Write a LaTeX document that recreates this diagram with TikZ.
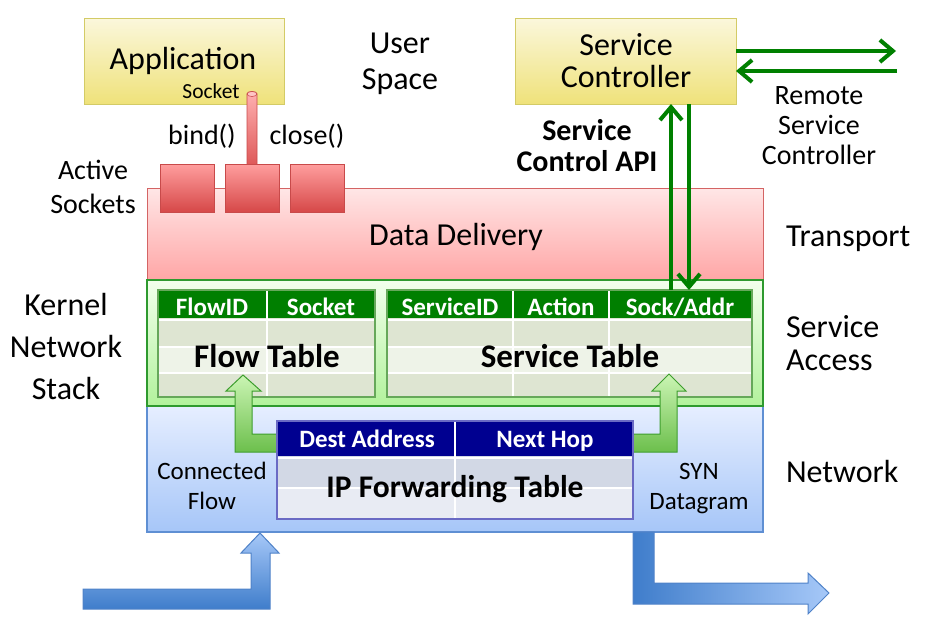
\documentclass[tikz,border=0pt]{standalone}
\usepackage{fontspec}
\setmainfont{Carlito}
\usetikzlibrary{arrows.meta}
\definecolor{appTop}{HTML}{FBF7DC}
\definecolor{appBot}{HTML}{EFE27A}
\definecolor{appBd}{HTML}{D3CB66}
\definecolor{pinkTop}{HTML}{FFE6E6}
\definecolor{pinkBot}{HTML}{FFA6A6}
\definecolor{pinkBd}{HTML}{D46464}
\definecolor{grTop}{HTML}{F2FFEC}
\definecolor{grBot}{HTML}{B2F29C}
\definecolor{grBd}{HTML}{2E9A2E}
\definecolor{blTop}{HTML}{E6EEFF}
\definecolor{blBot}{HTML}{A6C6F8}
\definecolor{blBd}{HTML}{5F8FD3}
\definecolor{hdrG}{HTML}{007F00}
\definecolor{rowGD}{HTML}{DEE5D2}
\definecolor{rowGL}{HTML}{EEF3E8}
\definecolor{tabGBd}{HTML}{66A85A}
\definecolor{hdrB}{HTML}{000090}
\definecolor{rowBD}{HTML}{D2D8E5}
\definecolor{rowBL}{HTML}{E8EBF3}
\definecolor{tabBBd}{HTML}{6A6AC4}
\definecolor{sockTop}{HTML}{FF9E9E}
\definecolor{sockBot}{HTML}{D64848}
\definecolor{sockBd}{HTML}{C84A4A}
\definecolor{gaTop}{HTML}{CBF5B4}
\definecolor{gaBot}{HTML}{6CBF4C}
\definecolor{gaBd}{HTML}{3E9E2E}
\definecolor{baLight}{HTML}{A6C8F8}
\definecolor{baDark}{HTML}{3F7DCB}
\definecolor{baBd}{HTML}{4F82C8}
\definecolor{ctlG}{HTML}{008000}
\begin{document}
\begin{tikzpicture}[x=1pt,y=-1pt,
  box/.style={draw, inner sep=0pt, outer sep=0pt, anchor=north west},
  txt/.style={anchor=base, inner sep=0pt, outer sep=0pt},
  big/.style={txt, font=\fontsize{32}{38}\selectfont},
  mid/.style={txt, font=\fontsize{28}{34}\selectfont},
  small/.style={txt, font=\fontsize{25}{30}\selectfont},
  hdr/.style={txt, text=white, font=\bfseries\fontsize{25}{30}\selectfont},
  ttl/.style={txt, font=\bfseries\fontsize{33}{38}\selectfont},
  garrow/.style={draw=gaBd, line width=1pt, top color=gaTop, bottom color=gaBot},
  ctl/.style={draw=ctlG, line width=4pt, -{Straight Barb[length=13pt,width=22pt]}},
  sockbox/.style={box, draw=sockBd, line width=1pt, top color=sockTop, bottom color=sockBot, minimum width=54pt, minimum height=48pt}
]
\useasboundingbox (0,0) rectangle (931,627);

% layer boxes
\node[box, draw=pinkBd, line width=1pt, top color=pinkTop, bottom color=pinkBot, minimum width=616pt, minimum height=92pt] (deliv) at (147,188) {};
\node[box, draw=blBd, line width=1.2pt, top color=blTop, bottom color=blBot, minimum width=616pt, minimum height=126pt] (netw) at (147,406) {};
\node[box, draw=grBd, line width=1.2pt, top color=grTop, bottom color=grBot, minimum width=616pt, minimum height=126pt] (acc) at (147,280) {};

% flow table
\node[box, draw=none, fill=rowGD, minimum width=217pt, minimum height=107pt] (flowtab) at (158,290) {};
\fill[rowGL] (158,348) rectangle (375,372);
\fill[hdrG] (158,290) rectangle (375,318);
\draw[white, line width=2.5pt] (158,320) -- (375,320);
\draw[white, line width=1.5pt] (158,347) -- (375,347) (158,373) -- (375,373);
\draw[white, line width=1.5pt] (267,290) -- (267,397);
\draw[tabGBd, line width=1.3pt] (flowtab.north west) rectangle (flowtab.south east);
\node[hdr] (fh1) at (212,315) {FlowID};
\node[hdr] (fh2) at (321,315) {Socket};
\node[ttl] (flowttl) at (267,367) {Flow Table};

% service table
\node[box, draw=none, fill=rowGD, minimum width=365pt, minimum height=107pt] (servtab) at (387,290) {};
\fill[rowGL] (387,348) rectangle (752,372);
\fill[hdrG] (387,290) rectangle (752,318);
\draw[white, line width=2.5pt] (387,320) -- (752,320);
\draw[white, line width=1.5pt] (387,347) -- (752,347) (387,373) -- (752,373);
\draw[white, line width=1.5pt] (513,290) -- (513,397) (609,290) -- (609,397);
\draw[tabGBd, line width=1.3pt] (servtab.north west) rectangle (servtab.south east);
\node[hdr] (sh1) at (450,315) {ServiceID};
\node[hdr] (sh2) at (561,315) {Action};
\node[hdr] (sh3) at (680,315) {Sock/Addr};
\node[ttl] (servttl) at (570,367) {Service Table};

% green elbow arrows
\path[garrow] (277,434) -- (252,434) -- (252,391) -- (261,391) -- (243,375) -- (226,391) -- (235,391) -- (235,452) -- (277,452) -- cycle;
\path[garrow] (633,434) -- (660,434) -- (660,391) -- (652,391) -- (669,374) -- (686,391) -- (677,391) -- (677,452) -- (633,452) -- cycle;

% IP forwarding table
\node[box, draw=none, fill=rowBD, minimum width=356pt, minimum height=98pt] (iptab) at (277,421) {};
\fill[rowBL] (277,489) rectangle (633,519);
\fill[hdrB] (277,421) rectangle (633,456);
\draw[white, line width=2.5pt] (277,458) -- (633,458);
\draw[white, line width=1.5pt] (277,488) -- (633,488);
\draw[white, line width=1.5pt] (455,421) -- (455,519);
\draw[tabBBd, line width=1.3pt] (iptab.north west) rectangle (iptab.south east);
\node[hdr] (ih1) at (367,447) {Dest Address};
\node[hdr] (ih2) at (545,447) {Next Hop};
\node[ttl, font=\bfseries\fontsize{31.5}{36}\selectfont] (ipttl) at (455,497) {IP Forwarding Table};

% blue arrows
\path[draw=baBd, line width=1pt, top color=baLight, bottom color=baDark] (83,589) -- (251,589) -- (251,553) -- (241,553) -- (260,533) -- (279,553) -- (270,553) -- (270,609) -- (83,609) -- cycle;
\path[draw=baBd, line width=1pt, left color=baDark, right color=baLight] (633,532) -- (654,532) -- (654,583) -- (808,583) -- (808,573) -- (829,593) -- (808,614) -- (808,604) -- (633,604) -- cycle;

% application and socket
\node[box, draw=appBd, line width=1pt, top color=appTop, bottom color=appBot, minimum width=200pt, minimum height=86pt] (app) at (84,18) {};
\node[big] (apptxt) at (183,69) {Application};
\node[txt, font=\fontsize{21.5}{24}\selectfont] (socktxt) at (211,98) {Socket};
\node[sockbox] (s1) at (160,164) {};
\node[sockbox] (s2) at (225,164) {};
\node[sockbox] (s3) at (290,164) {};
\path[draw=sockBd, line width=0.8pt, top color=sockTop!80!white, bottom color=sockBot!80!sockTop] (247,164) -- (247,94) arc[start angle=180, end angle=0, x radius=5pt, y radius=2.5pt] -- (257,164);
\draw[sockBd, line width=0.6pt, fill=sockTop!60!white] (252,94) ellipse [x radius=5pt, y radius=2.5pt];
\node[mid] (bindtxt) at (202,144) {bind()};
\node[mid] (closetxt) at (307,144) {close()};

% service controller
\node[box, draw=appBd, line width=1pt, top color=appTop, bottom color=appBot, minimum width=221pt, minimum height=86pt] (ctrl) at (515,18) {};
\node[big] (ctrl1) at (626,55) {Service};
\node[big] (ctrl2) at (626,87) {Controller};

% control arrows
\coordinate (upx) at (671,0);
\coordinate (dnx) at (689,0);
\draw[ctl] (upx |- servtab.north) -- (upx |- ctrl.south);
\draw[ctl] (dnx |- ctrl.south) -- (dnx |- servtab.north);
\coordinate (rout) at (896,51);
\coordinate (rin) at (897,71);
\draw[ctl] (ctrl.east |- rout) -- (rout);
\draw[ctl] (rin) -- (ctrl.east |- rin);

% labels
\node[big] (user1) at (400,53) {User};
\node[big] (user2) at (400,89) {Space};
\node[txt, font=\bfseries\fontsize{30}{36}\selectfont] (api1) at (587,140) {Service};
\node[txt, font=\bfseries\fontsize{30}{36}\selectfont] (api2) at (587,171) {Control API};
\node[mid] (rem1) at (819,104) {Remote};
\node[mid] (rem2) at (819,134) {Service};
\node[mid] (rem3) at (819,164) {Controller};
\node[mid] (act1) at (93,179) {Active};
\node[mid] (act2) at (93,213) {Sockets};
\node[big] (ker1) at (66,315) {Kernel};
\node[big] (ker2) at (66,357) {Network};
\node[big] (ker3) at (66,399) {Stack};
\node[big] (deltxt) at (456,245) {Data Delivery};
\node[big, anchor=base west] (trans) at (786,246) {Transport};
\node[big, anchor=base west] (sa1) at (786,337) {Service};
\node[big, anchor=base west] (sa2) at (786,370) {Access};
\node[big, anchor=base west] (net) at (786,482) {Network};
\node[small] (cf1) at (212,479) {Connected};
\node[small] (cf2) at (212,509) {Flow};
\node[small] (syn1) at (699,479) {SYN};
\node[small] (syn2) at (699,509) {Datagram};
\end{tikzpicture}
\end{document}
